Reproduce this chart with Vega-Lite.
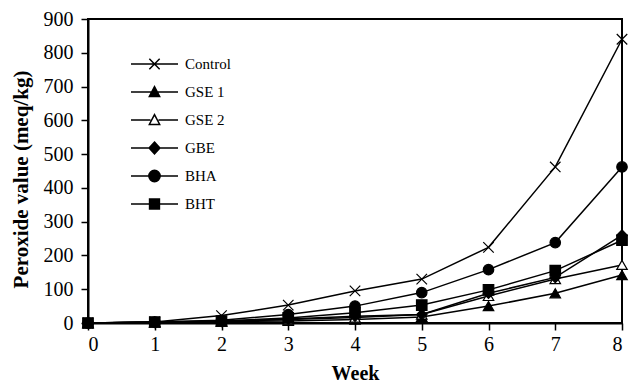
{
  "$schema": "https://vega.github.io/schema/vega-lite/v6.json",
  "width": 534,
  "height": 304,
  "autosize": "none",
  "padding": {"left": 88, "top": 19, "right": 11, "bottom": 62},
  "background": "white",
  "config": {
    "font": "Liberation Serif",
    "view": {"stroke": "black", "strokeWidth": 2},
    "axis": {"grid": false, "domainColor": "black", "domainWidth": 2, "tickColor": "black", "tickWidth": 1.5, "tickSize": 7, "labelFont": "Liberation Serif", "labelFontSize": 20, "labelColor": "black", "titleFont": "Liberation Serif", "titleFontSize": 20, "titleFontWeight": "bold", "titleColor": "black"},
    "legend": {"symbolStrokeWidth": 1.5, "labelFont": "Liberation Serif", "labelFontSize": 15, "labelColor": "black"}
  },
  "data": {
    "values": [
      {"week": 0, "series": "Control", "value": 0},
      {"week": 1, "series": "Control", "value": 3},
      {"week": 2, "series": "Control", "value": 22},
      {"week": 3, "series": "Control", "value": 53},
      {"week": 4, "series": "Control", "value": 95},
      {"week": 5, "series": "Control", "value": 130},
      {"week": 6, "series": "Control", "value": 224},
      {"week": 7, "series": "Control", "value": 462},
      {"week": 8, "series": "Control", "value": 840},
      {"week": 0, "series": "GSE 1", "value": 0},
      {"week": 1, "series": "GSE 1", "value": 2},
      {"week": 2, "series": "GSE 1", "value": 4},
      {"week": 3, "series": "GSE 1", "value": 6},
      {"week": 4, "series": "GSE 1", "value": 10},
      {"week": 5, "series": "GSE 1", "value": 18},
      {"week": 6, "series": "GSE 1", "value": 50},
      {"week": 7, "series": "GSE 1", "value": 88},
      {"week": 8, "series": "GSE 1", "value": 142},
      {"week": 0, "series": "GSE 2", "value": 0},
      {"week": 1, "series": "GSE 2", "value": 2},
      {"week": 2, "series": "GSE 2", "value": 5},
      {"week": 3, "series": "GSE 2", "value": 10},
      {"week": 4, "series": "GSE 2", "value": 16},
      {"week": 5, "series": "GSE 2", "value": 25},
      {"week": 6, "series": "GSE 2", "value": 80},
      {"week": 7, "series": "GSE 2", "value": 130},
      {"week": 8, "series": "GSE 2", "value": 172},
      {"week": 0, "series": "GBE", "value": 0},
      {"week": 1, "series": "GBE", "value": 2},
      {"week": 2, "series": "GBE", "value": 5},
      {"week": 3, "series": "GBE", "value": 12},
      {"week": 4, "series": "GBE", "value": 20},
      {"week": 5, "series": "GBE", "value": 25},
      {"week": 6, "series": "GBE", "value": 88},
      {"week": 7, "series": "GBE", "value": 135},
      {"week": 8, "series": "GBE", "value": 260},
      {"week": 0, "series": "BHA", "value": 0},
      {"week": 1, "series": "BHA", "value": 3},
      {"week": 2, "series": "BHA", "value": 8},
      {"week": 3, "series": "BHA", "value": 25},
      {"week": 4, "series": "BHA", "value": 50},
      {"week": 5, "series": "BHA", "value": 90},
      {"week": 6, "series": "BHA", "value": 158},
      {"week": 7, "series": "BHA", "value": 238},
      {"week": 8, "series": "BHA", "value": 462},
      {"week": 0, "series": "BHT", "value": 0},
      {"week": 1, "series": "BHT", "value": 3},
      {"week": 2, "series": "BHT", "value": 6},
      {"week": 3, "series": "BHT", "value": 15},
      {"week": 4, "series": "BHT", "value": 30},
      {"week": 5, "series": "BHT", "value": 53},
      {"week": 6, "series": "BHT", "value": 98},
      {"week": 7, "series": "BHT", "value": 155},
      {"week": 8, "series": "BHT", "value": 245}
    ]
  },
  "encoding": {
    "x": {"field": "week", "type": "quantitative", "title": "Week", "scale": {"domain": [0, 8], "nice": false}, "axis": {"values": [0,1,2,3,4,5,6,7,8], "labelPadding": 4, "titlePadding": 9}},
    "y": {"field": "value", "type": "quantitative", "title": "Peroxide value (meq/kg)", "scale": {"domain": [0, 900], "nice": false}, "axis": {"values": [0,100,200,300,400,500,600,700,800,900], "labelPadding": 8, "titlePadding": 12, "titleFontSize": 21, "titleY": 160}}
  },
  "resolve": {"scale": {"shape": "independent", "fill": "independent", "stroke": "independent"}, "legend": {"shape": "independent", "fill": "independent", "stroke": "independent"}},
  "layer": [
    {
      "mark": {"type": "line", "color": "black", "strokeWidth": 1.5},
      "encoding": {"detail": {"field": "series"}}
    },
    {
      "mark": {"type": "point", "filled": true, "stroke": "black", "strokeWidth": 1.2, "size": 110, "opacity": 1},
      "encoding": {
        "shape": {
          "field": "series",
          "type": "nominal",
          "scale": {
            "domain": ["Control", "GSE 1", "GSE 2", "GBE", "BHA", "BHT"],
            "range": ["M-1,-1L1,1M-1,1L1,-1", "triangle-up", "triangle-up", "diamond", "circle", "square"]
          },
          "legend": null
        },
        "fill": {"condition": {"test": "datum.series === 'GSE 2'", "value": "white"}, "value": "black"}
      }
    },
    {
      "mark": {"type": "point", "filled": true, "strokeWidth": 1.5, "opacity": 0, "size": 2209},
      "encoding": {
        "shape": {
          "field": "series",
          "type": "nominal",
          "scale": {
            "domain": ["Control", "GSE 1", "GSE 2", "GBE", "BHA", "BHT"],
            "range": [
              "M-1,0L1,0M-0.22,-0.22L0.22,0.22M-0.22,0.22L0.22,-0.22",
              "M-1,0L1,0M-0.22,0.19L0.22,0.19L0,-0.23Z",
              "M-1,0L-0.17,0M0.17,0L1,0M-0.22,0.19L0.22,0.19L0,-0.23Z",
              "M-1,0L1,0M0,-0.25L0.23,0L0,0.25L-0.23,0Z",
              "M-1,0L1,0M-0.24,0A0.24,0.24 0 1,0 0.24,0A0.24,0.24 0 1,0 -0.24,0Z",
              "M-1,0L1,0M-0.21,-0.21L0.21,-0.21L0.21,0.21L-0.21,0.21Z"
            ]
          },
          "legend": {"title": null, "orient": "none", "legendX": 42, "legendY": 31, "padding": 0, "symbolSize": 2209, "symbolOpacity": 1, "symbolStrokeWidth": 1.5, "labelOffset": 6, "clipHeight": 28, "rowPadding": 0}
        },
        "fill": {
          "field": "series",
          "type": "nominal",
          "scale": {
            "domain": ["Control", "GSE 1", "GSE 2", "GBE", "BHA", "BHT"],
            "range": ["black", "black", "white", "black", "black", "black"]
          },
          "legend": {"title": null, "orient": "none", "legendX": 42, "legendY": 31, "padding": 0, "symbolSize": 2209, "symbolOpacity": 1, "symbolStrokeWidth": 1.5, "labelOffset": 6, "clipHeight": 28, "rowPadding": 0}
        },
        "stroke": {
          "field": "series",
          "type": "nominal",
          "scale": {
            "domain": ["Control", "GSE 1", "GSE 2", "GBE", "BHA", "BHT"],
            "range": ["black", "black", "black", "black", "black", "black"]
          },
          "legend": {"title": null, "orient": "none", "legendX": 42, "legendY": 31, "padding": 0, "symbolSize": 2209, "symbolOpacity": 1, "symbolStrokeWidth": 1.5, "labelOffset": 6, "clipHeight": 28, "rowPadding": 0}
        }
      }
    }
  ]
}
